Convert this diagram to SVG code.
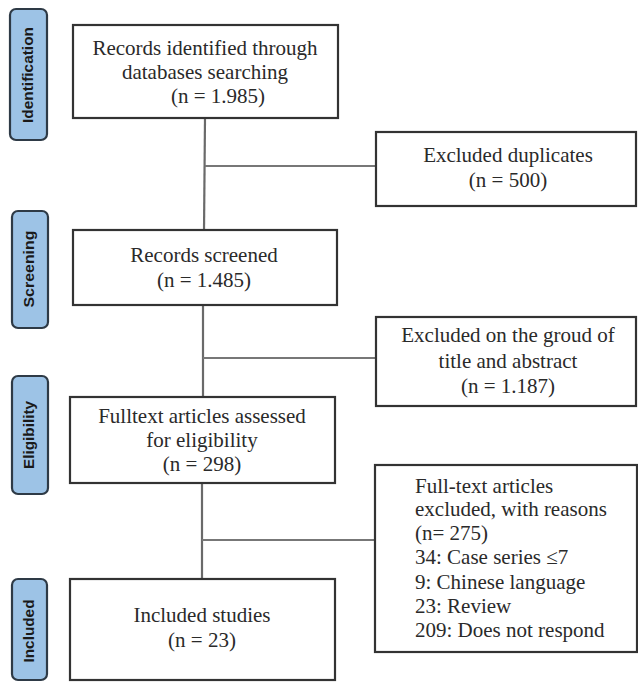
<svg xmlns="http://www.w3.org/2000/svg" width="638" height="682" viewBox="0 0 638 682">
<style>
.tab{fill:#9dc3e6;stroke:#2e3a46;stroke-width:2.2}
.tabt{font-family:"Liberation Sans",Arial,sans-serif;font-weight:bold;font-size:14px;fill:#1a1a1a;text-anchor:middle}
.box{fill:#fff;stroke:#333;stroke-width:2.2}
.t{font-family:"Liberation Serif","Times New Roman",serif;font-size:21px;fill:#2a2a2a;text-anchor:middle}
.tl{font-family:"Liberation Serif","Times New Roman",serif;font-size:21px;fill:#2a2a2a}
.v{stroke:#6a6a6a;stroke-width:2.2;fill:none}
.h{stroke:#777;stroke-width:1.8;fill:none}
</style>
<rect width="638" height="682" fill="#fff"/>
<g id="tab-identification">
<rect class="tab" x="10" y="9" width="37" height="131" rx="6"/>
<text class="tabt" transform="translate(33,75) rotate(-90)" textLength="96" lengthAdjust="spacingAndGlyphs">Identification</text>
</g>
<g id="tab-screening">
<rect class="tab" x="12" y="211" width="36" height="117" rx="6"/>
<text class="tabt" transform="translate(34,269) rotate(-90)" textLength="77" lengthAdjust="spacingAndGlyphs">Screening</text>
</g>
<g id="tab-eligibility">
<rect class="tab" x="12" y="376" width="36" height="118" rx="6"/>
<text class="tabt" transform="translate(34,435) rotate(-90)" textLength="68" lengthAdjust="spacingAndGlyphs">Eligibility</text>
</g>
<g id="tab-included">
<rect class="tab" x="12" y="579" width="35" height="101" rx="6"/>
<text class="tabt" transform="translate(34,631) rotate(-90)" textLength="63" lengthAdjust="spacingAndGlyphs">Included</text>
</g>
<g id="connectors">
<line class="v" x1="205" y1="118" x2="204" y2="231"/>
<line class="h" x1="205" y1="166" x2="376" y2="166"/>
<line class="v" x1="203" y1="305" x2="203" y2="397"/>
<line class="h" x1="203" y1="358" x2="376" y2="358"/>
<line class="v" x1="202" y1="483" x2="202" y2="579"/>
<line class="h" x1="202" y1="540" x2="375" y2="540"/>
</g>
<g id="n-identified">
<rect class="box" x="73" y="25" width="265" height="93"/>
<text class="t" x="205" y="55">Records identified through</text>
<text class="t" x="205" y="79">databases searching</text>
<text class="t" x="218" y="103">(n = 1.985)</text>
</g>
<g id="n-duplicates">
<rect class="box" x="376" y="132" width="260" height="74"/>
<text class="t" x="508" y="162">Excluded duplicates</text>
<text class="t" x="508" y="187">(n = 500)</text>
</g>
<g id="n-screened">
<rect class="box" x="73" y="230" width="264" height="75"/>
<text class="t" x="204" y="262">Records screened</text>
<text class="t" x="204" y="287">(n = 1.485)</text>
</g>
<g id="n-title-abstract">
<rect class="box" x="376" y="317" width="260" height="89"/>
<text class="t" x="508" y="342">Excluded on the groud of</text>
<text class="t" x="508" y="368">title and abstract</text>
<text class="t" x="508" y="393">(n = 1.187)</text>
</g>
<g id="n-fulltext">
<rect class="box" x="70" y="397" width="265" height="86"/>
<text class="t" x="202" y="423">Fulltext articles assessed</text>
<text class="t" x="202" y="447">for eligibility</text>
<text class="t" x="202" y="471">(n = 298)</text>
</g>
<g id="n-excluded-fulltext">
<rect class="box" x="375" y="465" width="262" height="187"/>
<text class="tl" x="415" y="493">Full-text articles</text>
<text class="tl" x="415" y="516">excluded, with reasons</text>
<text class="tl" x="415" y="540">(n= 275)</text>
<text class="tl" x="415" y="564">34: Case series ≤7</text>
<text class="tl" x="415" y="589">9: Chinese language</text>
<text class="tl" x="415" y="613">23: Review</text>
<text class="tl" x="415" y="637">209: Does not respond</text>
</g>
<g id="n-included">
<rect class="box" x="70" y="579" width="265" height="101"/>
<text class="t" x="202" y="622">Included studies</text>
<text class="t" x="202" y="647">(n = 23)</text>
</g>
</svg>
